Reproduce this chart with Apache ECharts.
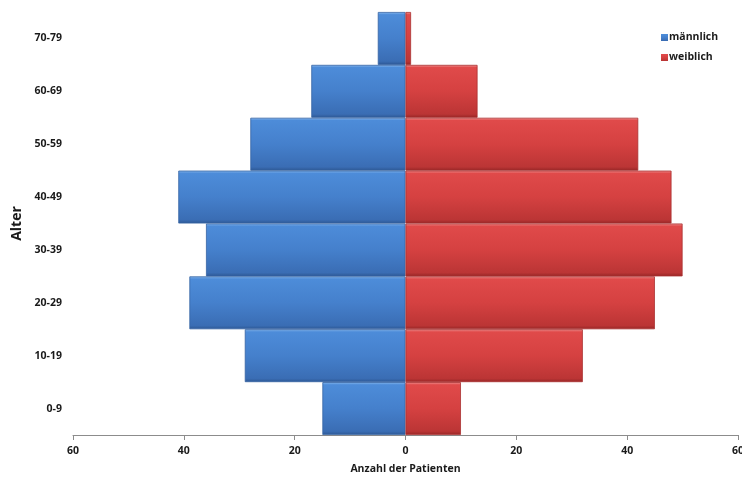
<!DOCTYPE html>
<html>
<head>
<meta charset="utf-8">
<script src="https://cdn.jsdelivr.net/npm/echarts@6/dist/echarts.min.js"></script>
<style>
  html, body { margin: 0; padding: 0; background: #ffffff; }
  #chart { width: 742px; height: 479px; }
</style>
</head>
<body>
<div id="chart"></div>
<script>
// Altersgruppen (von unten nach oben)
const categories = ['0-9', '10-19', '20-29', '30-39', '40-49', '50-59', '60-69', '70-79'];
// Anzahl der Patienten je Altersgruppe
const maennlich = [15, 29, 39, 36, 41, 28, 17, 5];
const weiblich = [10, 32, 45, 50, 48, 42, 13, 1];
// Beschriftung der Wertachse
const xTicks = [-60, -40, -20, 0, 20, 40, 60];

const FONT = '"Open Sans", "Noto Sans", sans-serif';

function bevel(top, light, mid, dark, edge) {
  return new echarts.graphic.LinearGradient(0, 0, 0, 1, [
    { offset: 0, color: top },
    { offset: 0.05, color: light },
    { offset: 0.5, color: mid },
    { offset: 0.93, color: dark },
    { offset: 1, color: edge }
  ]);
}

const chart = echarts.init(document.getElementById('chart'), null, { renderer: 'canvas' });

chart.setOption({
  animation: false,
  backgroundColor: '#ffffff',
  grid: { left: 73, right: 4, top: 12, bottom: 44, containLabel: false, outerBoundsMode: 'none' },
  legend: {
    orient: 'vertical',
    left: 656,
    top: 27,
    itemWidth: 7,
    itemHeight: 7,
    itemGap: 9,
    icon: 'rect',
    itemStyle: { borderWidth: 0 },
    textStyle: { fontFamily: FONT, fontWeight: 700, fontSize: 10.5, color: '#1a1a1a', padding: [0, 0, 0, -4] },
    data: ['männlich', 'weiblich']
  },
  xAxis: {
    type: 'value',
    min: xTicks[0],
    max: xTicks[xTicks.length - 1],
    interval: 20,
    name: 'Anzahl der Patienten',
    nameLocation: 'middle',
    nameGap: 29,
    nameTextStyle: { fontFamily: FONT, fontWeight: 700, fontSize: 10.5, color: '#1a1a1a' },
    axisLine: { show: true, lineStyle: { color: '#8c8c8c', width: 1 } },
    axisTick: { show: true, length: 5, lineStyle: { color: '#8c8c8c' } },
    axisLabel: {
      fontFamily: FONT, fontWeight: 700, fontSize: 10.5, color: '#1a1a1a', margin: 11,
      formatter: v => String(Math.abs(v))
    },
    splitLine: { show: false }
  },
  yAxis: {
    type: 'category',
    data: categories,
    name: 'Alter',
    nameLocation: 'middle',
    nameRotate: 90,
    nameGap: 49,
    nameTextStyle: { fontFamily: FONT, fontWeight: 700, fontSize: 14, color: '#1a1a1a' },
    axisLine: { show: false },
    axisTick: { show: false },
    axisLabel: { fontFamily: FONT, fontWeight: 700, fontSize: 10.5, color: '#1a1a1a', margin: 11 },
    splitLine: { show: false }
  },
  series: [
    {
      name: 'männlich',
      type: 'bar',
      stack: 'pyramide',
      barCategoryGap: '0%',
      data: maennlich.map(v => -v),
      itemStyle: {
        color: bevel('#8dbcf0', '#4d8cd9', '#4580cc', '#3a6db4', '#2d5793'),
        borderColor: '#3563a3',
        borderWidth: 0.8
      }
    },
    {
      name: 'weiblich',
      type: 'bar',
      stack: 'pyramide',
      barCategoryGap: '0%',
      data: weiblich,
      itemStyle: {
        color: bevel('#f29a9a', '#e04a4a', '#d54141', '#bb3535', '#962626'),
        borderColor: '#a93030',
        borderWidth: 0.8
      }
    }
  ]
});
</script>
</body>
</html>
